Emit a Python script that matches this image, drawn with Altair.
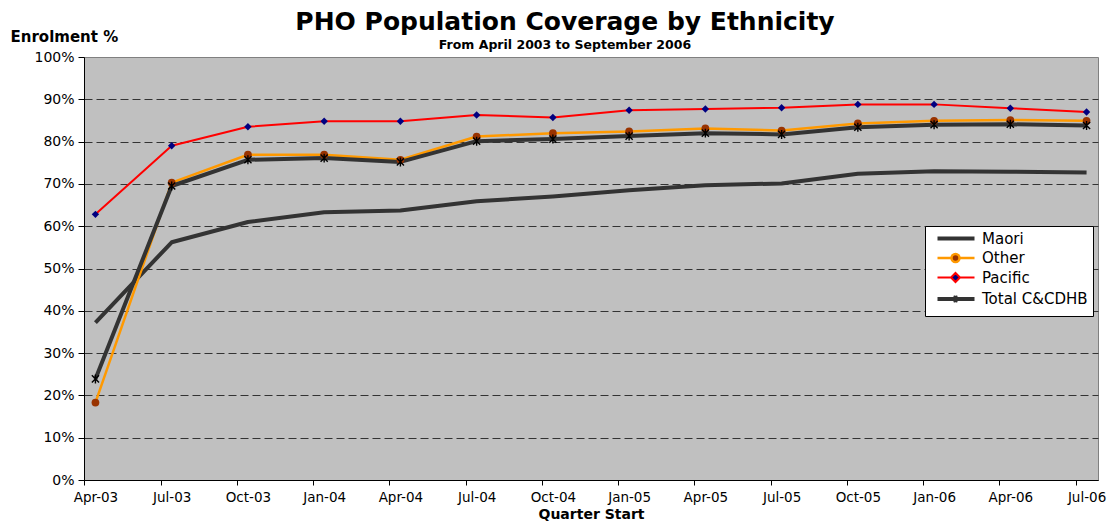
import altair as alt
import pandas as pd

# ---------------- data ----------------
quarters = ["Apr-03", "Jul-03", "Oct-03", "Jan-04", "Apr-04", "Jul-04", "Oct-04",
            "Jan-05", "Apr-05", "Jul-05", "Oct-05", "Jan-06", "Apr-06", "Jul-06"]
series_names = ["Maori", "Other", "Pacific", "Total C&CDHB"]

maori = [37.2, 56.2, 61.0, 63.3, 63.7, 65.9, 67.0, 68.5, 69.7, 70.1, 72.4, 73.0, 72.9, 72.7]
other = [18.3, 70.3, 76.9, 76.9, 75.7, 81.2, 82.0, 82.4, 83.1, 82.6, 84.3, 84.9, 85.1, 84.9]
pacific = [62.8, 79.0, 83.5, 84.8, 84.8, 86.3, 85.7, 87.4, 87.7, 88.0, 88.8, 88.8, 87.9, 87.0]
total = [23.9, 69.5, 75.7, 76.1, 75.2, 80.1, 80.6, 81.3, 82.0, 81.7, 83.4, 84.0, 84.1, 83.8]

y_ticks = [0, 10, 20, 30, 40, 50, 60, 70, 80, 90, 100]

# ---------------- styles ----------------
line_colors = ["#333333", "#FF9900", "#FF0000", "#333333"]
marker_fills = ["transparent", "#993300", "#000080", "transparent"]
line_widths = [4, 2.5, 2, 4]
legend_paths = [
    "M0,0L7.4,0",
    "M0,0L2.8,0M4.4,0L7.4,0M4.4,0A0.8,0.8,0,1,1,2.8,0A0.8,0.8,0,1,1,4.4,0Z",
    "M0,0L2.7,0M4.5,0L7.4,0M3.6,-0.9L4.5,0L3.6,0.9L2.7,0Z",
    "M0,0L7.4,0M3.6,-0.65L3.6,0.65M3.15,-0.45L4.05,0.45M3.15,0.45L4.05,-0.45",
]
FONT = "DejaVu Sans"

rows = []
for name, vals in zip(series_names, [maori, other, pacific, total]):
    for q, v in zip(quarters, vals):
        rows.append({"quarter": q, "series": name, "value": v})
df = pd.DataFrame(rows)

x_enc = alt.X(
    "quarter:N", sort=quarters,
    scale=alt.Scale(type="point", padding=0.15),
    axis=alt.Axis(title="Quarter Start", labelAngle=0, tickOffset=-11, labelOffset=11,
                  labelFont=FONT, labelFontSize=13.5, labelColor="black",
                  tickColor="black", domainColor="black", tickSize=5, labelPadding=5,
                  titleFont=FONT, titleFontSize=14, titleFontWeight="bold", titleColor="black",
                  titleBaseline="alphabetic", titleY=38, grid=False),
)
y_enc = alt.Y(
    "value:Q", scale=alt.Scale(domain=[0, 100]),
    axis=alt.Axis(values=y_ticks, labelExpr="datum.value + '%'",
                  title="Enrolment %", titleAngle=0, titleAlign="left",
                  titleBaseline="alphabetic", titleX=-74, titleY=-16,
                  titleFont=FONT, titleFontSize=15, titleFontWeight="bold", titleColor="black",
                  labelFont=FONT, labelFontSize=14, labelColor="black",
                  tickColor="black", domainColor="black", tickSize=6, labelPadding=4,
                  grid=True, gridColor="#333333", gridDash=[8, 4], gridWidth=1,
                  gridOpacity={"condition": {"test": "datum.value >= 100", "value": 0}, "value": 1}),
)

leg = alt.Legend(title=None, orient="none", legendX=841, legendY=169,
                 fillColor="white", strokeColor="black", padding=5, rowPadding=1.5,
                 labelFont=FONT, labelFontSize=15, labelColor="black", labelOffset=37,
                 symbolSize=100, symbolOpacity=1, labelLimit=300)

stroke_scale = alt.Scale(domain=series_names, range=line_colors)
fill_scale = alt.Scale(domain=series_names, range=marker_fills)
shape_scale = alt.Scale(domain=series_names, range=legend_paths)
width_scale = alt.Scale(type="ordinal", domain=series_names, range=line_widths)

legend_layer = alt.Chart(df).transform_filter("false").mark_point(opacity=1).encode(
    fill=alt.Fill("series:N", scale=fill_scale, legend=leg),
    stroke=alt.Stroke("series:N", scale=stroke_scale, legend=leg),
    shape=alt.Shape("series:N", scale=shape_scale, legend=leg),
    strokeWidth=alt.StrokeWidth("series:N", scale=width_scale, legend=leg),
)

lines = alt.Chart(df).mark_line(strokeJoin="round").encode(
    x=x_enc, y=y_enc,
    stroke=alt.Stroke("series:N", scale=stroke_scale, legend=leg),
    strokeWidth=alt.StrokeWidth("series:N", scale=width_scale, legend=leg),
)

other_pts = alt.Chart(df).transform_filter(alt.datum.series == "Other").mark_circle(
    color="#993300", size=60, opacity=1).encode(x=x_enc, y=y_enc)
pacific_pts = alt.Chart(df).transform_filter(alt.datum.series == "Pacific").mark_point(
    shape="diamond", filled=True, color="#000080", size=55, opacity=1).encode(x=x_enc, y=y_enc)
total_pts = alt.Chart(df).transform_filter(alt.datum.series == "Total C&CDHB").mark_point(
    shape="M0,-1L0,1M-0.8,-0.8L0.8,0.8M-0.8,0.8L0.8,-0.8", filled=False, color="black",
    strokeWidth=1.4, size=80, opacity=1).encode(x=x_enc, y=y_enc)

chart = alt.layer(legend_layer, lines, other_pts, pacific_pts, total_pts).properties(
    width=1014, height=423,
    autosize="none",
    background="white",
    padding={"left": 76, "top": 49, "right": 10, "bottom": 43},
    title=alt.Title("PHO Population Coverage by Ethnicity",
                    subtitle="From April 2003 to September 2006",
                    font=FONT, fontSize=25, fontWeight="bold", color="black",
                    subtitleFont=FONT, subtitleFontSize=12.5, subtitleFontWeight="bold",
                    subtitleColor="black", subtitlePadding=4,
                    anchor="middle", frame="group", dx=-26, offset=-22),
).configure_view(
    fill="#C0C0C0", stroke="#808080", strokeWidth=1
)

chart.save("out.html", embed_options={"renderer": "svg", "actions": False})
